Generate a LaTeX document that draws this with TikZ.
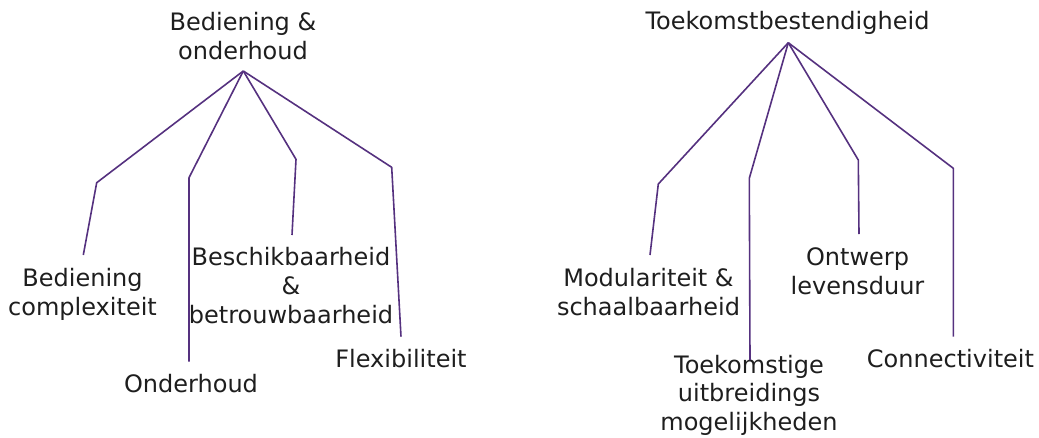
\documentclass[tikz,border=0pt]{standalone}
\usepackage{fontspec}
\setmainfont{DejaVu Sans}
\definecolor{branch}{HTML}{55317F}
\definecolor{ink}{HTML}{1E1E1E}
\begin{document}
\begin{tikzpicture}[x=1pt,y=-1pt,
  % labels are placed by the baseline of their last line
  lbl/.style={anchor=base,align=center,inner sep=0pt,text=ink,
    font=\fontsize{24pt}{28.8pt}\selectfont},
  link/.style={draw=branch,line width=1.6pt,line join=round}]
\useasboundingbox (0,0) rectangle (1039,437);

% ---- Bediening & onderhoud ----
\node[lbl] (bo) at (243,59.5) {Bediening \&\\onderhoud};
\coordinate (boTop) at (243.3,71);
\node[lbl] (bc) at (82.5,315) {Bediening\\complexiteit};
\node[lbl] (oh) at (191,392) {Onderhoud};
\node[lbl] (bb) at (291,323.3) {Beschikbaarheid\\\&\\betrouwbaarheid};
\node[lbl] (fx) at (401,367.3) {Flexibiliteit};

\coordinate (bcK) at (96.7,182.7);  \coordinate (bcE) at (83.3,255);
\coordinate (ohK) at (189,177.7);   \coordinate (ohE) at (189,361.7);
\coordinate (bbK) at (296,159.3);   \coordinate (bbE) at (292,235);
\coordinate (fxK) at (391.7,167.3); \coordinate (fxE) at (401,336.7);

\draw[link] (boTop) -- (bcK) -- (bcE);
\draw[link] (boTop) -- (ohK) -- (ohE);
\draw[link] (boTop) -- (bbK) -- (bbE);
\draw[link] (boTop) -- (fxK) -- (fxE);

% ---- Toekomstbestendigheid ----
\node[lbl] (tb) at (787.5,29.3) {Toekomstbestendigheid};
\coordinate (tbTop) at (788.3,42.7);
\node[lbl] (ms) at (648.5,315) {Modulariteit \&\\schaalbaarheid};
\node[lbl] (tu) at (749,430.7) {Toekomstige\\uitbreidings\\mogelijkheden};
\node[lbl] (ol) at (857.5,294) {Ontwerp\\levensduur};
\node[lbl] (cn) at (950.5,367.3) {Connectiviteit};

\coordinate (msK) at (658.3,184);   \coordinate (msE) at (650,255);
\coordinate (tuK) at (749.3,178.3); \coordinate (tuE) at (750,360);
\coordinate (olK) at (858.3,160);   \coordinate (olE) at (859,234);
\coordinate (cnK) at (953.3,168.3); \coordinate (cnE) at (953.3,336.7);

\draw[link] (tbTop) -- (msK) -- (msE);
\draw[link] (tbTop) -- (tuK) -- (tuE);
\draw[link] (tbTop) -- (olK) -- (olE);
\draw[link] (tbTop) -- (cnK) -- (cnE);
\end{tikzpicture}
\end{document}
